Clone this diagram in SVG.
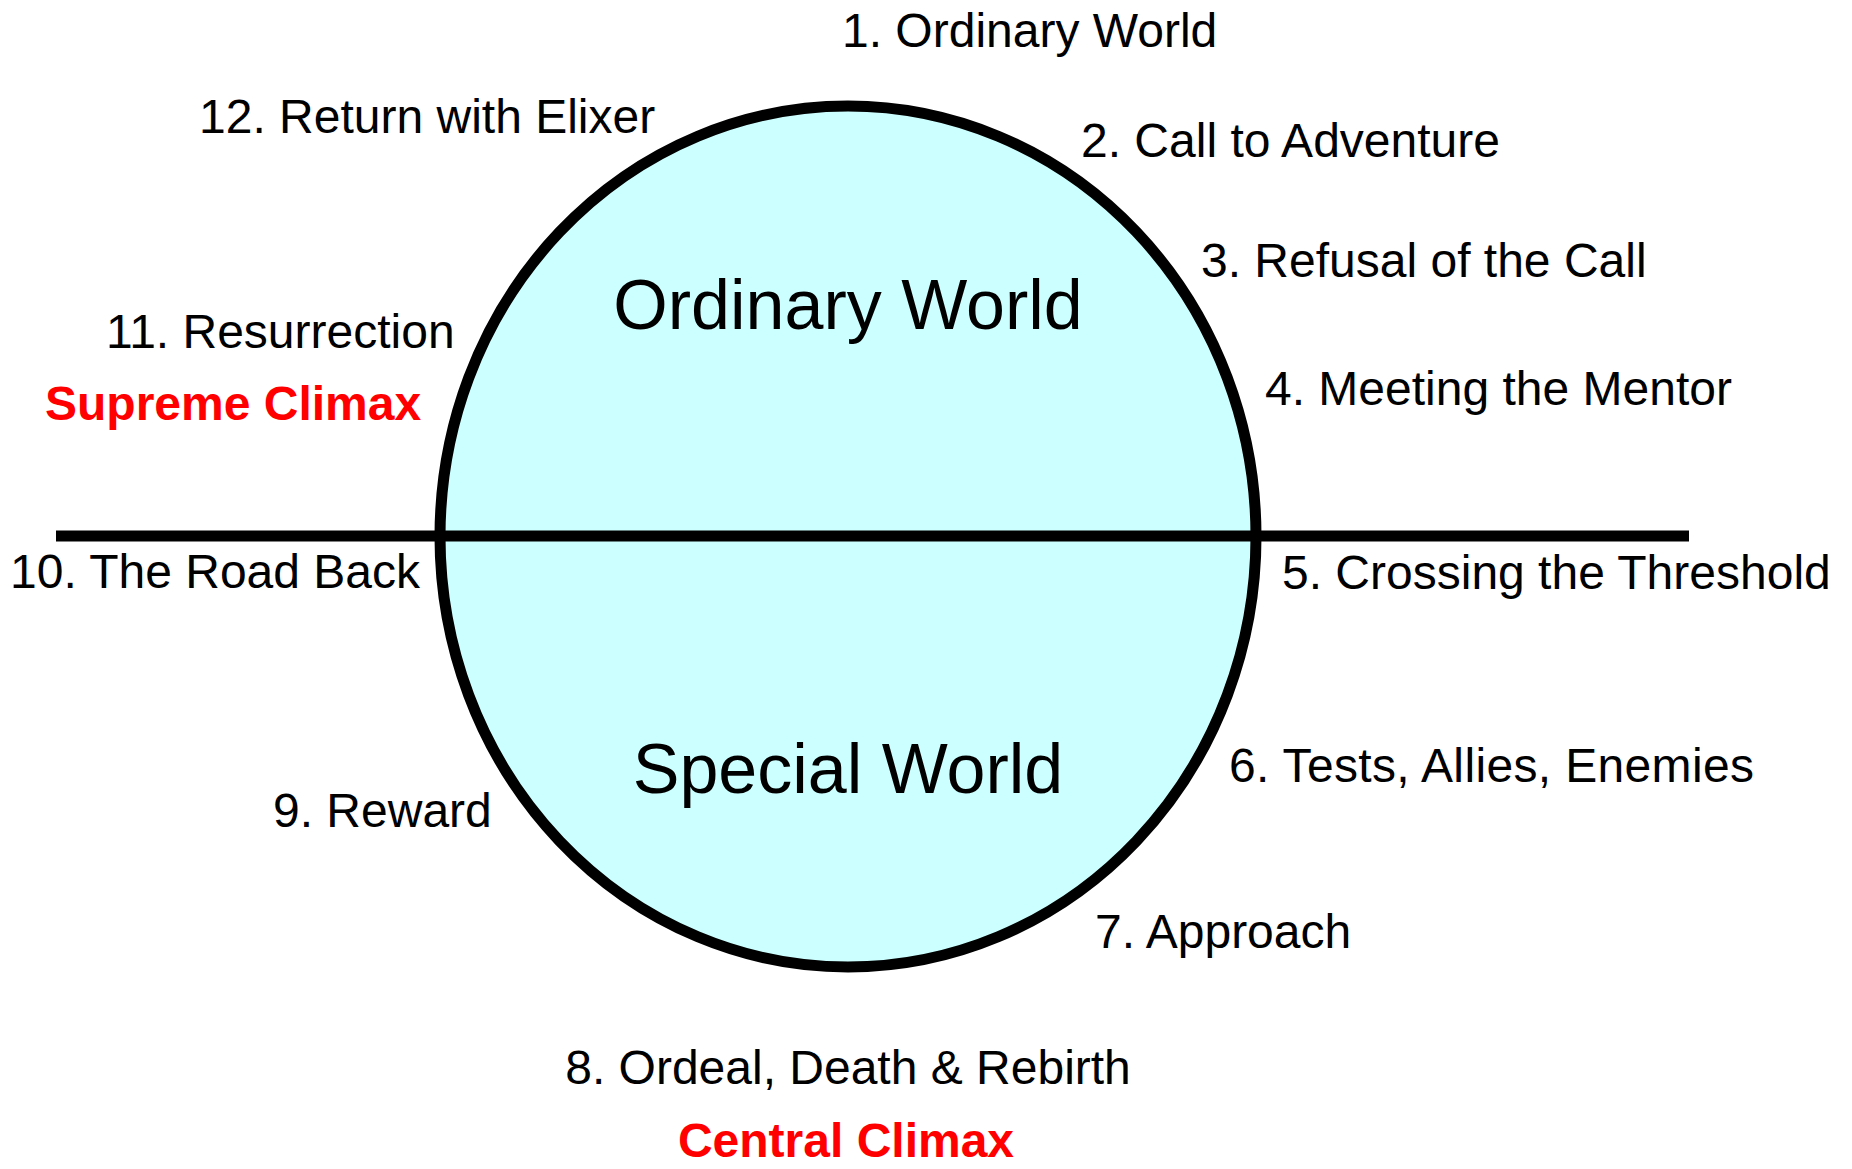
<svg xmlns="http://www.w3.org/2000/svg" width="1852" height="1169" viewBox="0 0 1852 1169">
<style>
  .lbl { font-family: "Liberation Sans", Arial, sans-serif; font-size: 48px; fill: #000; }
  .big { font-family: "Liberation Sans", Arial, sans-serif; font-size: 70px; fill: #000; text-anchor: middle; }
  .red { font-family: "Liberation Sans", Arial, sans-serif; font-size: 48px; font-weight: bold; fill: #FF0000; }
  .stroke { stroke: #000; stroke-width: 11; }
</style>
<rect width="1852" height="1169" fill="#FFFFFF"/>
<g id="world">
  <ellipse cx="848" cy="536.5" rx="408" ry="430.5" fill="#CCFFFF" class="stroke"/>
  <text class="big" x="848" y="329">Ordinary World</text>
  <text class="big" x="848" y="793">Special World</text>
</g>
<g id="connectors">
  <line x1="56" y1="536" x2="1689" y2="536" class="stroke"/>
</g>
<g id="stage1"><text class="lbl" x="842" y="47">1. Ordinary World</text></g>
<g id="stage2"><text class="lbl" x="1081" y="157">2. Call to Adventure</text></g>
<g id="stage3"><text class="lbl" x="1201" y="277">3. Refusal of the Call</text></g>
<g id="stage4"><text class="lbl" x="1265" y="405">4. Meeting the Mentor</text></g>
<g id="stage5"><text class="lbl" x="1282" y="589">5. Crossing the Threshold</text></g>
<g id="stage6"><text class="lbl" x="1229" y="782" textLength="525" lengthAdjust="spacing">6. Tests, Allies, Enemies</text></g>
<g id="stage7"><text class="lbl" x="1095" y="948">7. Approach</text></g>
<g id="stage8">
  <text class="lbl" x="848" y="1084" text-anchor="middle">8. Ordeal, Death &amp; Rebirth</text>
  <text class="red" x="846" y="1157" text-anchor="middle">Central Climax</text>
</g>
<g id="stage9"><text class="lbl" x="273" y="827">9. Reward</text></g>
<g id="stage10"><text class="lbl" x="10" y="588">10. The Road Back</text></g>
<g id="stage11">
  <text class="lbl" x="106" y="348">11. Resurrection</text>
  <text class="red" x="45" y="420">Supreme Climax</text>
</g>
<g id="stage12"><text class="lbl" x="199" y="133">12. Return with Elixer</text></g>
</svg>
